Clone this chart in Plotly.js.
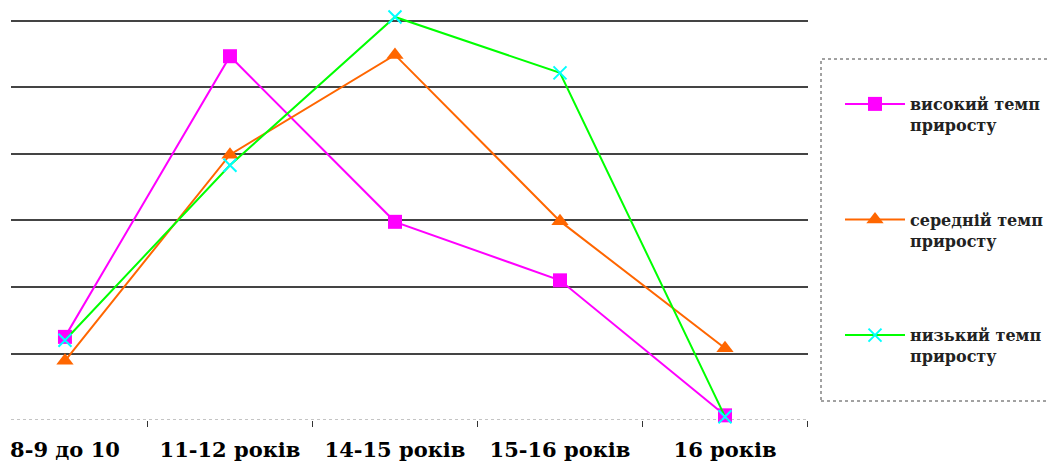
<!DOCTYPE html>
<html>
<head>
<meta charset="utf-8">
<script src="https://cdn.plot.ly/plotly-3.0.1.min.js"></script>
<style>
html,body{margin:0;padding:0;background:#fff;}
#chart{width:1048px;height:463px;}
</style>
</head>
<body>
<div id="chart"></div>
<script>
const categories = ["8-9 до 10", "11-12 років", "14-15 років", "15-16 років", "16 років"];
const seriesNames = ["високий темп<br>приросту", "середній темп<br>приросту", "низький темп<br>приросту"];
const highRate = [1.25, 5.47, 2.98, 2.10, 0.07];
const midRate = [0.89, 3.99, 5.49, 2.99, 1.08];
const lowRate = [1.20, 3.83, 6.06, 5.22, 0.05];

const traces = [
  {x: categories, y: highRate, name: seriesNames[0], type: 'scatter', mode: 'lines+markers',
   line: {color: '#FF00FF', width: 2}, marker: {symbol: 'square', size: 14, color: '#FF00FF'},
   cliponaxis: false, legendgroup: 'a'},
  {x: categories, y: midRate, name: seriesNames[1], type: 'scatter', mode: 'lines+markers',
   line: {color: '#FF6600', width: 2}, marker: {symbol: 'triangle-up', size: 15, color: '#FF6600'},
   cliponaxis: false, legendgroup: 'b'},
  {x: categories, y: lowRate, name: seriesNames[2], type: 'scatter', mode: 'lines+markers',
   line: {color: '#00FF00', width: 2}, marker: {symbol: 'x-thin', size: 13, color: '#00FFFF', line: {color: '#00FFFF', width: 2}},
   cliponaxis: false, legendgroup: 'c'}
];

const layout = {
  width: 1048, height: 463,
  margin: {l: 11, r: 240, t: 11, b: 43},
  paper_bgcolor: '#fff', plot_bgcolor: '#fff',
  showlegend: true,
  xaxis: {
    type: 'category', range: [-0.327, 4.503],
    showgrid: false, showline: false, zeroline: false,
    ticks: 'outside', tickson: 'boundaries', ticklen: 6, tickcolor: '#333', tickwidth: 1,
    ticklabelstandoff: 15,
    tickfont: {family: 'DejaVu Serif', size: 21, color: '#000', weight: 'bold'},
    fixedrange: true
  },
  yaxis: {
    range: [0, 6.15], dtick: 1, showticklabels: false, ticks: '',
    showgrid: true, gridcolor: '#444', gridwidth: 2,
    zeroline: false, showline: false, fixedrange: true
  },
  shapes: [
    {type: 'line', xref: 'paper', yref: 'y', x0: 0, x1: 1, y0: 0, y1: 0,
     line: {color: '#888', width: 1, dash: 'dot'}},
    {type: 'rect', xref: 'paper', yref: 'paper', x0: (821-11)/797, x1: (1060-11)/797,
     y0: (420-401)/409, y1: (420-59)/409,
     line: {color: '#444', width: 1, dash: 'dot'}}
  ],
  legend: {
    xref: 'container', yref: 'container', x: 840/1048, y: 1 - 87/463,
    xanchor: 'left', yanchor: 'top', valign: 'top',
    bgcolor: 'rgba(0,0,0,0)', borderwidth: 0,
    tracegroupgap: 71, itemwidth: 60, maxheight: 420,
    font: {family: 'DejaVu Serif', size: 16, color: '#222', weight: 'bold'}
  }
};

Plotly.newPlot('chart', traces, layout, {displayModeBar: false, staticPlot: true});
</script>
</body>
</html>
